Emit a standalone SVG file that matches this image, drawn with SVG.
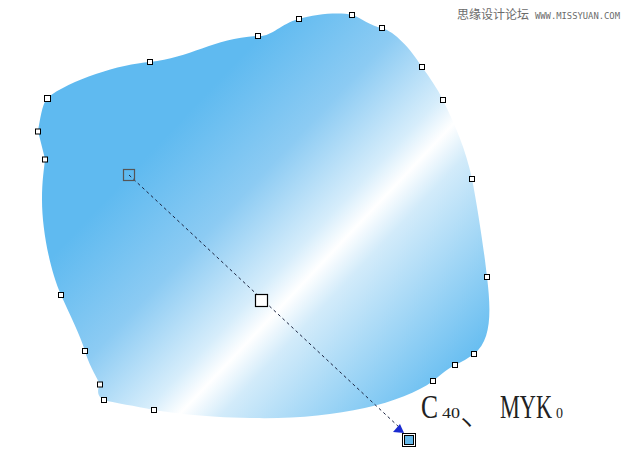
<svg xmlns="http://www.w3.org/2000/svg" width="631" height="470" viewBox="0 0 631 470">
<style>
.node{fill:#fff;stroke:#000;stroke-width:1}
.big{font-family:"Liberation Serif","Noto Sans CJK SC",serif;fill:#222}
.wm{fill:#6b6b6b}
</style>
<defs>
<linearGradient id="g" gradientUnits="userSpaceOnUse" x1="129" y1="175" x2="410" y2="440">
<stop offset="0" stop-color="#5fbaf0"/>
<stop offset="0.25" stop-color="#8ccbf3"/>
<stop offset="0.45" stop-color="#d6edfb"/>
<stop offset="0.52" stop-color="#ffffff"/>
<stop offset="0.6" stop-color="#d2ebfa"/>
<stop offset="1" stop-color="#5fbaf0"/>
</linearGradient>
</defs>
<rect width="631" height="470" fill="#fff"/>
<g id="shape">
<path fill="url(#g)" d="M47,98 C70,80 120,64 150,62 C190,58 215,38 258,36 C272,37 280,24 299,19 C315,14 340,12 352,15 C362,18 370,26 382,28 C395,32 410,48 422,67 C430,78 437,88 443,100 C455,125 466,150 472,179 C478,210 484,250 487,277 C491,310 492,340 474,354 C468,358 462,362 455,365 C445,370 440,376 433,381 C400,405 330,420 250,418 C200,417 175,413 154,410 C135,406 115,403 104,400 C97,397 97,390 100,384 C95,375 88,362 85,351 C80,335 70,315 61,295 C50,270 42,230 42,200 C42,180 44,170 45,159 L38,131 C40,120 42,105 47,98 Z"/>
</g>
<g id="connectors">
<line x1="129" y1="175" x2="400" y2="428" stroke="#1a2340" stroke-width="1" stroke-dasharray="3,3"/>
<polygon points="393,432 400,424 404,433" fill="#1a2bd0"/>
</g>
<g id="nodes">
<rect class="node" x="44.5" y="95.5" width="6" height="6"/>
<rect class="node" x="35.5" y="129" width="5" height="5"/>
<rect class="node" x="42.5" y="157" width="5" height="5"/>
<rect class="node" x="58.5" y="292.5" width="5" height="5"/>
<rect class="node" x="82.5" y="348.5" width="5" height="5"/>
<rect class="node" x="97.5" y="382" width="5" height="5"/>
<rect class="node" x="101.5" y="397.5" width="5" height="5"/>
<rect class="node" x="151.5" y="407.5" width="5" height="5"/>
<rect class="node" x="430.5" y="378.5" width="5" height="5"/>
<rect class="node" x="452.5" y="362.5" width="5" height="5"/>
<rect class="node" x="471.5" y="351.5" width="5" height="5"/>
<rect class="node" x="484.5" y="274.5" width="5" height="5"/>
<rect class="node" x="469.5" y="176.5" width="5" height="5"/>
<rect class="node" x="440.5" y="97.5" width="5" height="5"/>
<rect class="node" x="419.5" y="64.5" width="5" height="5"/>
<rect class="node" x="379.5" y="25.5" width="5" height="5"/>
<rect class="node" x="349.5" y="12.5" width="5" height="5"/>
<rect class="node" x="296.5" y="16.5" width="5" height="5"/>
<rect class="node" x="255.5" y="33.5" width="5" height="5"/>
<rect class="node" x="147.5" y="59.5" width="5" height="5"/>
</g>
<g id="handles">
<rect x="123.5" y="169.5" width="11" height="11" fill="none" stroke="#555" stroke-width="1.2"/>
<rect x="255.5" y="294.5" width="12" height="12" fill="#fff" stroke="#000" stroke-width="1.2"/>
<rect x="402.5" y="433.5" width="13" height="13" fill="#fff" stroke="#000" stroke-width="1"/>
<rect x="404.5" y="435.5" width="9" height="9" fill="#66b9ea" stroke="#000" stroke-width="1"/>
</g>
<g id="label">
<text class="big" x="421" y="418" font-size="33" textLength="17" lengthAdjust="spacingAndGlyphs">C</text>
<text class="big" x="442" y="418" font-size="14" textLength="18" lengthAdjust="spacingAndGlyphs">40</text>
<text class="big" x="460" y="425" font-size="34" font-weight="300">、</text>
<text class="big" x="500" y="418" font-size="33" textLength="52" lengthAdjust="spacingAndGlyphs">MYK</text>
<text class="big" x="556" y="418" font-size="14" textLength="7" lengthAdjust="spacingAndGlyphs">0</text>
</g>
<g id="watermark">
<text class="wm" x="457" y="19" font-family="Noto Sans CJK SC, sans-serif" font-size="12">思缘设计论坛</text>
<text class="wm" x="535" y="19" font-family="DejaVu Sans Mono, monospace" font-size="9" textLength="85" lengthAdjust="spacingAndGlyphs">WWW.MISSYUAN.COM</text>
</g>
</svg>
